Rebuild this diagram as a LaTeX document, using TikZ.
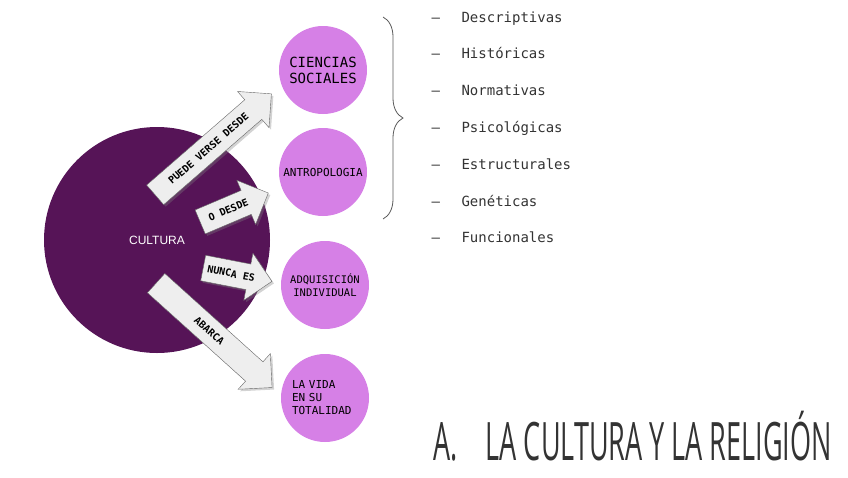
\documentclass[tikz,border=0pt]{standalone}
\usepackage{fontspec}
\setmainfont{Liberation Sans}
\newfontfamily\monofont{DejaVu Sans Mono}
\newfontfamily\titlefont[FakeStretch=0.51]{Open Sans}
\usetikzlibrary{shapes.arrows, shadows, decorations.pathreplacing}

\definecolor{culturapurple}{HTML}{561457}
\definecolor{ramapink}{HTML}{D680E6}
\definecolor{arrowgray}{HTML}{EEEEEE}
\definecolor{listgray}{HTML}{333333}

\tikzset{
  rama/.style={circle, fill=ramapink, minimum size=88pt, inner sep=0pt,
    font=\monofont\fontsize{11}{13}\selectfont, align=center},
  flecha/.style={single arrow, draw=gray!80!black, fill=arrowgray,
    single arrow head extend=11pt, inner xsep=2pt, inner ysep=9pt,
    font=\monofont\bfseries\fontsize{10}{10}\selectfont,
    drop shadow={shadow xshift=2pt, shadow yshift=-2pt, opacity=0.35}},
  lista/.style={anchor=base west, text=listgray, font=\monofont\fontsize{14}{16}\selectfont},
}

\begin{document}
\begin{tikzpicture}[x=1pt, y=-1pt]

    \useasboundingbox (0,0) rectangle (848,477);

    \coordinate (T1) at (155,195);
    \coordinate (T2) at (200,222);
    \coordinate (T3) at (203,268);
    \coordinate (T4) at (156,283);

    % centro
    \node[circle, fill=culturapurple, minimum size=226pt, text=white,
      font=\fontsize{12}{14}\selectfont] (cultura) at (157,240) {CULTURA};

    % flechas
    \node[flecha, rotate=41, minimum height=154pt, anchor=tail] (puede) at (T1) {PUEDE VERSE DESDE};
    \node[flecha, rotate=23, minimum height=74pt, anchor=tail] (odesde) at (T2) {O DESDE};
    \node[flecha, rotate=-11, minimum height=70pt, anchor=tail] (nunca) at (T3) {NUNCA ES};
    \node[flecha, rotate=-42, minimum height=156pt, anchor=tail] (abarca) at (T4) {ABARCA};

    % ramas
    \node[rama, font=\monofont\fontsize{14}{16}\selectfont] (ciencias) at (323,70) {CIENCIAS\\SOCIALES};
    \node[rama] (antropologia) at (323,172) {ANTROPOLOGIA};
    \node[rama, font=\monofont\fontsize{10.5}{13}\selectfont] (adquisicion) at (325,285) {ADQUISICIÓN\\INDIVIDUAL};
    \node[rama, align=left, text width=66pt, inner sep=0pt] (vida) at (325,398) {LA VIDA\\EN SU\\TOTALIDAD};

    \draw[gray!70!black, line width=0.8pt, decorate, decoration={brace, amplitude=20pt}]
        (383,17) -- (383,219);

    \foreach \i/\txt in {1/Descriptivas, 2/Históricas, 3/Normativas, 4/Psicológicas,
                         5/Estructurales, 6/Genéticas, 7/Funcionales} {
        \node[lista] (guion\i) at (428,{22+36.8*(\i-1)}) {–};
        \node[lista] (item\i) at (458,{22+36.8*(\i-1)}) {\txt};
    }

    \node[anchor=base west, text=listgray, font=\titlefont\fontsize{53}{60}\selectfont]
        (titulo) at (430,460) {A.\hspace{28pt}LA CULTURA Y LA RELIGIÓN};

\end{tikzpicture}
\end{document}
